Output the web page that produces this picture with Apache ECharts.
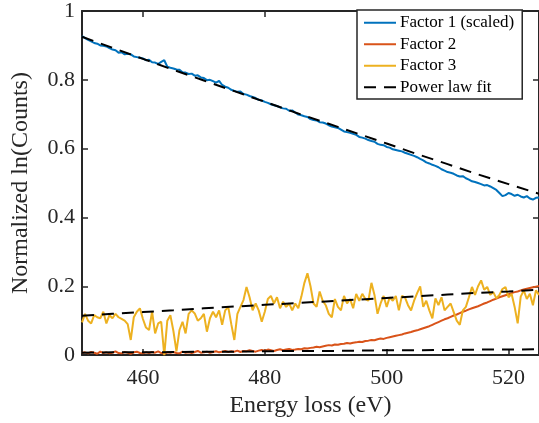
<!DOCTYPE html>
<html>
<head>
<meta charset="utf-8">
<script src="https://cdn.jsdelivr.net/npm/echarts@6/dist/echarts.min.js"></script>
<style>
  html, body { margin: 0; padding: 0; background: #ffffff; }
  #chart { width: 539px; height: 423px; }
</style>
</head>
<body>
<div id="chart"></div>
<script>
// Energy loss sampling grid (eV), 0.5 eV steps from 450 to 525
const energy = [];
for (let e = 450; e <= 525; e += 0.5) energy.push(e);

// Factor 1 (scaled) spectrum
const factor1 = [
  0.927, 0.921, 0.916, 0.912, 0.907, 0.905, 0.900, 0.899, 0.897, 0.892,
  0.888, 0.886, 0.879, 0.880, 0.874, 0.876, 0.874, 0.868, 0.866, 0.864,
  0.862, 0.857, 0.858, 0.851, 0.850, 0.846, 0.852, 0.857, 0.838, 0.835,
  0.833, 0.830, 0.829, 0.822, 0.821, 0.817, 0.818, 0.812, 0.813, 0.807,
  0.805, 0.799, 0.800, 0.796, 0.792, 0.797, 0.785, 0.780, 0.777, 0.771,
  0.768, 0.765, 0.766, 0.759, 0.757, 0.753, 0.750, 0.747, 0.742, 0.740,
  0.736, 0.733, 0.729, 0.726, 0.724, 0.720, 0.717, 0.716, 0.710, 0.711,
  0.705, 0.699, 0.697, 0.694, 0.692, 0.686, 0.683, 0.682, 0.677, 0.676,
  0.673, 0.668, 0.664, 0.662, 0.660, 0.655, 0.650, 0.648, 0.646, 0.643,
  0.640, 0.634, 0.632, 0.629, 0.625, 0.622, 0.620, 0.614, 0.611, 0.610,
  0.605, 0.603, 0.598, 0.596, 0.594, 0.592, 0.588, 0.585, 0.582, 0.579,
  0.575, 0.570, 0.566, 0.560, 0.557, 0.553, 0.550, 0.546, 0.540, 0.536,
  0.532, 0.530, 0.527, 0.522, 0.519, 0.520, 0.514, 0.510, 0.505, 0.503,
  0.500, 0.497, 0.493, 0.494, 0.490, 0.485, 0.480, 0.471, 0.462, 0.465,
  0.471, 0.468, 0.463, 0.466, 0.461, 0.458, 0.462, 0.455, 0.452, 0.457,
  0.458
];

// Factor 2 spectrum
const factor2 = [
  0.006, 0.008, 0.005, 0.009, 0.007, 0.004, 0.010, 0.006, 0.008, 0.005,
  0.007, 0.011, 0.006, 0.005, 0.009, 0.007, 0.004, 0.008, 0.010, 0.006,
  0.005, 0.008, 0.006, 0.009, 0.007, 0.011, 0.006, 0.004, 0.008, 0.007,
  0.009, 0.006, 0.005, 0.010, 0.007, 0.008, 0.006, 0.009, 0.012, 0.007,
  0.008, 0.010, 0.007, 0.009, 0.011, 0.008, 0.010, 0.012, 0.009, 0.011,
  0.010, 0.013, 0.009, 0.012, 0.011, 0.014, 0.012, 0.010, 0.013, 0.015,
  0.013, 0.016, 0.014, 0.012, 0.015, 0.017, 0.014, 0.016, 0.018, 0.015,
  0.016, 0.018, 0.017, 0.020, 0.019, 0.021, 0.022, 0.024, 0.023, 0.025,
  0.027, 0.029, 0.028, 0.031, 0.030, 0.032, 0.033, 0.035, 0.034, 0.036,
  0.037, 0.039, 0.038, 0.041, 0.042, 0.044, 0.043, 0.046, 0.048, 0.047,
  0.050, 0.052, 0.054, 0.056, 0.058, 0.060, 0.063, 0.065, 0.067, 0.070,
  0.072, 0.075, 0.078, 0.081, 0.084, 0.088, 0.092, 0.096, 0.100, 0.104,
  0.107, 0.111, 0.115, 0.118, 0.122, 0.126, 0.129, 0.133, 0.136, 0.139,
  0.142, 0.146, 0.150, 0.153, 0.157, 0.161, 0.164, 0.168, 0.171, 0.174,
  0.177, 0.180, 0.183, 0.185, 0.188, 0.191, 0.193, 0.195, 0.197, 0.199,
  0.201
];

// Factor 3 spectrum
const factor3 = [
  0.095, 0.120, 0.100, 0.092, 0.116, 0.110, 0.107, 0.126, 0.092, 0.116,
  0.107, 0.120, 0.110, 0.105, 0.100, 0.090, 0.044, 0.110, 0.126, 0.136,
  0.105, 0.080, 0.073, 0.126, 0.063, 0.092, 0.097, 0.000, 0.100, 0.116,
  0.070, 0.011, 0.073, 0.097, 0.063, 0.120, 0.130, 0.121, 0.100, 0.107,
  0.120, 0.068, 0.107, 0.126, 0.110, 0.130, 0.088, 0.130, 0.140, 0.090,
  0.044, 0.120, 0.140, 0.160, 0.198, 0.168, 0.130, 0.150, 0.130, 0.097,
  0.126, 0.163, 0.172, 0.150, 0.168, 0.136, 0.155, 0.140, 0.150, 0.130,
  0.150, 0.136, 0.170, 0.210, 0.238, 0.200, 0.150, 0.140, 0.185, 0.158,
  0.145, 0.120, 0.110, 0.163, 0.140, 0.130, 0.172, 0.150, 0.163, 0.136,
  0.178, 0.158, 0.178, 0.163, 0.158, 0.210, 0.175, 0.120, 0.150, 0.172,
  0.140, 0.168, 0.158, 0.172, 0.130, 0.172, 0.168, 0.145, 0.130, 0.158,
  0.180, 0.200, 0.140, 0.158, 0.130, 0.107, 0.165, 0.145, 0.168, 0.130,
  0.140, 0.150, 0.125, 0.100, 0.088, 0.130, 0.140, 0.168, 0.198, 0.175,
  0.200, 0.217, 0.190, 0.198, 0.175, 0.183, 0.165, 0.175, 0.192, 0.198,
  0.168, 0.178, 0.140, 0.092, 0.170, 0.188, 0.163, 0.178, 0.145, 0.188,
  0.175
];

// Power law fits, sampled every 5 eV
const fitEnergy = [450, 455, 460, 465, 470, 475, 480, 485, 490, 495, 500, 505, 510, 515, 520, 525];
const fit1 = [0.925, 0.893, 0.861, 0.829, 0.798, 0.767, 0.736, 0.705, 0.675, 0.645, 0.615, 0.584, 0.555, 0.525, 0.497, 0.469];
const fit2 = [0.007, 0.008, 0.008, 0.009, 0.010, 0.010, 0.011, 0.012, 0.012, 0.013, 0.014, 0.014, 0.015, 0.016, 0.016, 0.017];
const fit3 = [0.114, 0.120, 0.125, 0.130, 0.136, 0.141, 0.146, 0.151, 0.156, 0.161, 0.166, 0.171, 0.176, 0.181, 0.185, 0.190];

// Tick values
const xTicks = [460, 480, 500, 520];
const yTicks = [0, 0.2, 0.4, 0.6, 0.8, 1];

const seriesNames = ['Factor 1 (scaled)', 'Factor 2', 'Factor 3', 'Power law fit'];
const seriesColors = ['#0072BD', '#D95319', '#EDB120', '#000000'];

const serif = "'Times New Roman', 'Liberation Serif', 'DejaVu Serif', serif";
const axisColor = '#262626';

const pairs = (xs, ys) => xs.map((x, i) => [x, ys[i]]);

const spectrum = (name, color, ys) => ({
  name, type: 'line', data: pairs(energy, ys),
  symbol: 'none', smooth: false, silent: true,
  lineStyle: { color, width: 2 }, itemStyle: { color }
});
const fitLine = (ys) => ({
  name: seriesNames[3], type: 'line', data: pairs(fitEnergy, ys),
  symbol: 'none', silent: true, z: 5,
  lineStyle: { color: '#000', width: 2, type: [12, 8] }, itemStyle: { color: '#000' }
});

const baseX = {
  type: 'value', min: 450, max: 525,
  splitLine: { show: false },
  axisLine: { show: true, onZero: false, lineStyle: { color: axisColor, width: 2 } },
  axisTick: { show: true, inside: true, length: 6, customValues: xTicks, lineStyle: { color: axisColor, width: 1.5 } }
};
const baseY = {
  type: 'value', min: 0, max: 1, interval: 0.2,
  splitLine: { show: false },
  axisLine: { show: true, onZero: false, lineStyle: { color: axisColor, width: 2 } },
  axisTick: { show: true, inside: true, length: 6, lineStyle: { color: axisColor, width: 1.5 } }
};

const chart = echarts.init(document.getElementById('chart'), null, { renderer: 'canvas' });
chart.setOption({
  animation: false,
  backgroundColor: '#ffffff',
  textStyle: { fontFamily: serif },
  grid: { left: 82, top: 9, width: 459, height: 348, containLabel: false },
  xAxis: [
    Object.assign({}, baseX, {
      position: 'bottom',
      axisLabel: { customValues: xTicks, fontSize: 22, color: axisColor, margin: 12, fontFamily: serif },
      name: 'Energy loss (eV)', nameLocation: 'middle', nameGap: 37,
      nameTextStyle: { fontSize: 24, color: axisColor, fontFamily: serif }
    }),
    Object.assign({}, baseX, { position: 'top', axisLabel: { show: false } })
  ],
  yAxis: [
    Object.assign({}, baseY, {
      position: 'left',
      axisLabel: { fontSize: 22, color: axisColor, margin: 7, fontFamily: serif },
      name: 'Normalized ln(Counts)', nameLocation: 'middle', nameGap: 49,
      nameTextStyle: { fontSize: 24, color: axisColor, fontFamily: serif }
    }),
    Object.assign({}, baseY, { position: 'right', axisLabel: { show: false } })
  ],
  legend: {
    data: seriesNames,
    orient: 'vertical',
    left: 357, top: 10,
    padding: [2, 8, 1, 6],
    itemWidth: 32, itemHeight: 12, itemGap: 0,
    backgroundColor: '#ffffff',
    borderColor: axisColor, borderWidth: 1.5, borderRadius: 0,
    selectedMode: false,
    itemStyle: { opacity: 0 },
    lineStyle: { width: 2 },
    textStyle: { fontSize: 17, color: '#000', fontFamily: serif, lineHeight: 21.5, padding: [0, 0, 0, -1] }
  },
  series: [
    spectrum(seriesNames[0], seriesColors[0], factor1),
    spectrum(seriesNames[1], seriesColors[1], factor2),
    spectrum(seriesNames[2], seriesColors[2], factor3),
    fitLine(fit1),
    fitLine(fit2),
    fitLine(fit3)
  ]
});
</script>
</body>
</html>
